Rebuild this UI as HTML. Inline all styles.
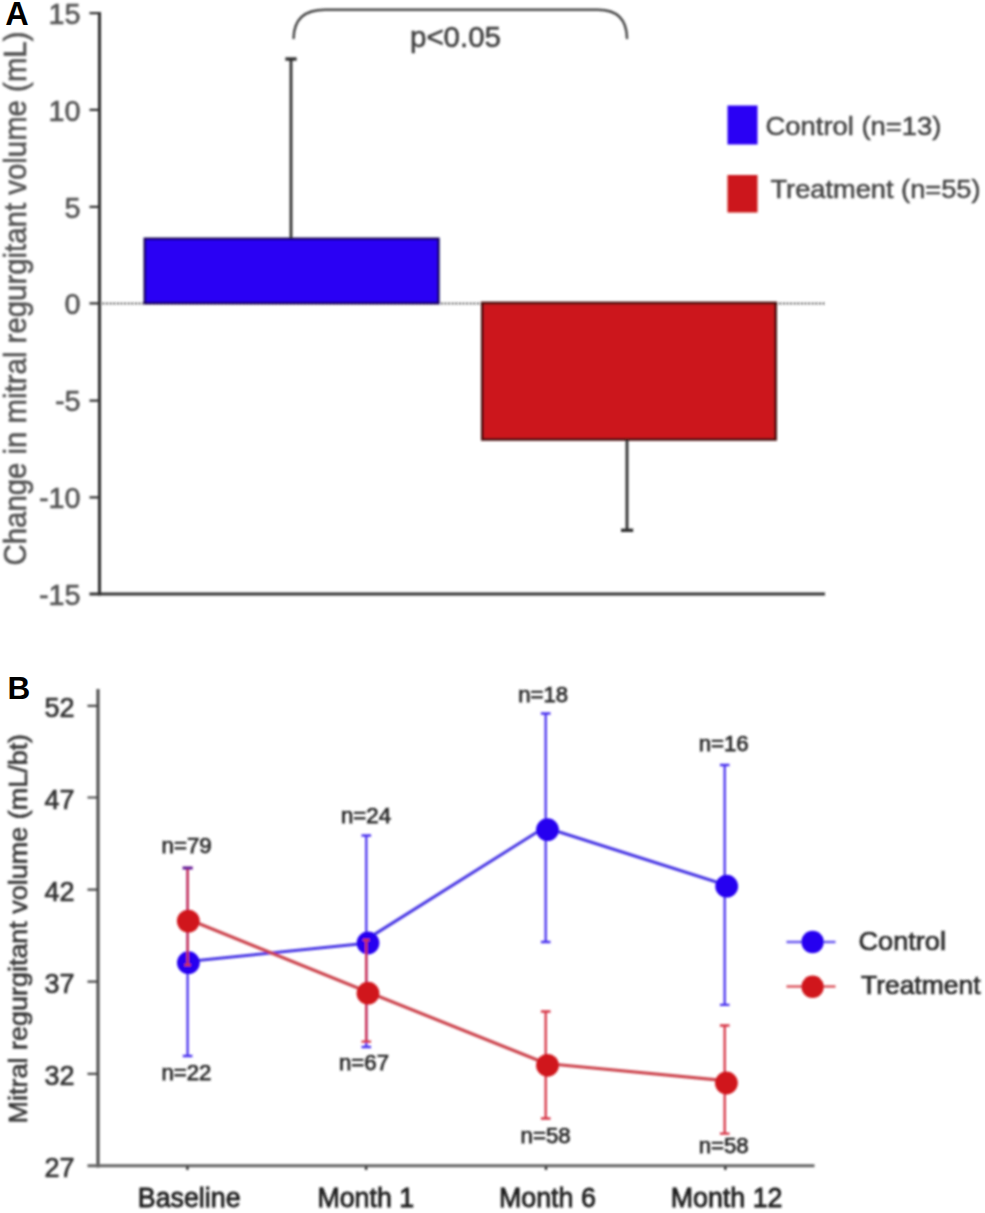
<!DOCTYPE html>
<html lang="en">
<head>
<meta charset="utf-8">
<title>Mitral regurgitant volume</title>
<style>
html,body{margin:0;padding:0;background:#fff;}
body{width:985px;height:1213px;overflow:hidden;}
svg{display:block;}
text{font-family:"Liberation Sans",Arial,Helvetica,sans-serif;}
</style>
</head>
<body>
<svg width="985" height="1213" viewBox="0 0 985 1213">
<rect width="985" height="1213" fill="#fff"/>
<defs><filter id="soft" x="0" y="0" width="985" height="1213" filterUnits="userSpaceOnUse"><feGaussianBlur stdDeviation="0.85"/></filter></defs>
<g id="all" filter="url(#soft)">

<!-- ===================== PANEL A ===================== -->
<g id="panelA">

  <!-- zero dotted line -->
  <line x1="99" y1="303.5" x2="825" y2="303.5" stroke="#333" stroke-width="1.9" stroke-dasharray="1.7 1.9"/>

  <!-- axes -->
  <g stroke="#333" fill="none" stroke-linecap="butt">
    <path d="M99.5 12 V595.4" stroke-width="3.1"/>
    <path d="M89.5 594 H825" stroke-width="3"/>
    <path d="M89.5 13.2 H99.5 M89.5 109.8 H99.5 M89.5 206.9 H99.5 M89.5 303.4 H99.5 M89.5 400.6 H99.5 M89.5 497.3 H99.5" stroke-width="2.2"/>
  </g>

  <!-- y tick labels -->
  <g font-size="28.8" fill="#545454" stroke="#545454" stroke-width="0.55" text-anchor="end">
    <text x="80.5" y="24">15</text>
    <text x="80.5" y="120.5">10</text>
    <text x="80.5" y="217.5">5</text>
    <text x="80.5" y="314">0</text>
    <text x="80.5" y="411">-5</text>
    <text x="80.5" y="508">-10</text>
    <text x="80.5" y="605">-15</text>
  </g>

  <!-- y label -->
  <text transform="translate(25.8 565.5) rotate(-90)" font-size="30.5" fill="#545454" stroke="#545454" stroke-width="0.6" textLength="534" lengthAdjust="spacingAndGlyphs">Change in mitral regurgitant volume (mL)</text>

  <!-- bars -->
  <rect x="144.8" y="238.8" width="293.6" height="64.3" fill="#2a06f4" stroke="#12055c" stroke-width="2.5"/>
  <rect x="482.3" y="303" width="293.3" height="136.4" fill="#cc181c" stroke="#4a0e0e" stroke-width="2.7"/>

  <!-- error bars -->
  <g stroke="#2e2e2e" stroke-width="2.8" fill="none">
    <path d="M291 238 V58.5"/><path d="M285.4 59 H296.6" stroke-width="3.4"/>
    <path d="M627 440 V530"/><path d="M621 530.3 H633.2" stroke-width="3.4"/>
  </g>

  <!-- bracket -->
  <path d="M293.6 38 C294 21 303 9.8 325 9.8 H598 C618 9.8 626.6 21 627 38" fill="none" stroke="#484848" stroke-width="2.5" stroke-linecap="round"/>
  <text x="410" y="46.5" font-size="29.5" fill="#424242" stroke="#424242" stroke-width="0.55" textLength="91" lengthAdjust="spacingAndGlyphs">p&lt;0.05</text>

  <!-- legend -->
  <rect x="727.5" y="105.5" width="30" height="39" fill="#2a06f4"/>
  <rect x="727.5" y="175" width="30" height="37.5" fill="#cc181c"/>
  <g font-size="26" fill="#444" stroke="#444" stroke-width="0.5">
    <text x="765.5" y="135" textLength="176" lengthAdjust="spacingAndGlyphs">Control (n=13)</text>
    <text x="770.5" y="198" textLength="210" lengthAdjust="spacingAndGlyphs">Treatment (n=55)</text>
  </g>
</g>

<!-- ===================== PANEL B ===================== -->
<g id="panelB">

  <!-- axes -->
  <g stroke="#484848" fill="none">
    <path d="M98 689 V1167.6" stroke-width="3"/>
    <path d="M87.5 1165.8 H814.5" stroke-width="3" stroke="#636363"/>
    <path d="M87.5 705.8 H98 M87.5 797.5 H98 M87.5 889.6 H98 M87.5 981.7 H98 M87.5 1073.8 H98" stroke-width="2.2"/>
  </g>
  <g stroke="#333" stroke-width="2.4" fill="none">
    <path d="M187.4 1166 V1170 M366.1 1166 V1170 M546 1166 V1170 M725.3 1166 V1170"/>
  </g>

  <!-- y tick labels -->
  <g font-size="27" fill="#333" stroke="#333" stroke-width="0.7" text-anchor="end">
    <text x="74.5" y="717.3">52</text>
    <text x="74.5" y="809">47</text>
    <text x="74.5" y="901">42</text>
    <text x="74.5" y="993">37</text>
    <text x="74.5" y="1085">32</text>
    <text x="74.5" y="1176.8">27</text>
  </g>

  <!-- y label -->
  <text transform="translate(26.8 1123.4) rotate(-90)" font-size="26" fill="#3a3a3a" stroke="#3a3a3a" stroke-width="0.6" textLength="389.5" lengthAdjust="spacingAndGlyphs">Mitral regurgitant volume (mL/bt)</text>

  <!-- x labels -->
  <g font-size="26.8" fill="#1e1e1e" stroke="#1e1e1e" stroke-width="0.8" text-anchor="middle">
    <text x="189.2" y="1207">Baseline</text>
    <text x="365.8" y="1207">Month 1</text>
    <text x="547.4" y="1207">Month 6</text>
    <text x="726.6" y="1207">Month 12</text>
  </g>

  <!-- control (blue) error bars -->
  <g stroke="#4a32ee" stroke-width="2.3" fill="none">
    <path d="M187.6 868 V1056 M182.8 868 H192.4 M182.8 1056 H192.4"/>
    <path d="M366.3 835.5 V1047 M361.5 835.5 H371.1 M361.5 1047 H371.1"/>
    <path d="M545.7 713.5 V942 M540.9 713.5 H550.5 M540.9 942 H550.5"/>
    <path d="M724.7 765 V1004.8 M719.9 765 H729.5 M719.9 1004.8 H729.5"/>
  </g>
  <!-- control line -->
  <path d="M187.6 961.5 L366.5 943.3 M366.5 939.4 L546 826.5 M546 827.8 L725 884.8" fill="none" stroke="#4a38e4" stroke-width="3.1" stroke-linecap="round"/>
  <g fill="#2505f0">
    <circle cx="188.4" cy="962.7" r="11.4"/>
    <circle cx="368" cy="943" r="11.4"/>
    <circle cx="547.5" cy="829.7" r="11.4"/>
    <circle cx="726.7" cy="886.2" r="11.4"/>
  </g>

  <!-- treatment (red) error bars -->
  <g stroke="#d63446" stroke-width="2.3" fill="none">
    <path d="M187.6 868 V965 M182.8 868 H192.4 M184.4 965 H190.8"/>
    <path d="M366.3 940 V1041.7 M363 940 H369.6 M361.5 1041.7 H371.1"/>
    <path d="M545.7 1011.5 V1118.5 M540.9 1011.5 H550.5 M540.9 1118.5 H550.5"/>
    <path d="M724.7 1025.5 V1133.6 M719.9 1025.5 H729.5 M719.9 1133.6 H729.5"/>
  </g>
  <!-- treatment line -->
  <polyline points="187.6,919 366.5,991.5 546,1063.5 725,1080.6" fill="none" stroke="#cc444e" stroke-width="3.2" stroke-linejoin="round"/>
  <g fill="#d0151b">
    <circle cx="188.3" cy="921.1" r="11.4"/>
    <circle cx="368" cy="993.2" r="11.4"/>
    <circle cx="547.5" cy="1065.3" r="11.4"/>
    <circle cx="726.4" cy="1083" r="11.4"/>
  </g>
  <!-- purple overlap cap at baseline top -->
  <path d="M182.8 868 H192.4" stroke="#5a1a9a" stroke-width="2.6"/>

  <!-- n labels -->
  <g font-size="22.2" fill="#2a2a2a" stroke="#2a2a2a" stroke-width="0.75" text-anchor="middle">
    <text x="186.6" y="853">n=79</text>
    <text x="186.4" y="1080.4">n=22</text>
    <text x="366" y="823">n=24</text>
    <text x="364" y="1070">n=67</text>
    <text x="543.2" y="702.2">n=18</text>
    <text x="545.6" y="1142.6">n=58</text>
    <text x="723.7" y="751">n=16</text>
    <text x="723.7" y="1153.4">n=58</text>
  </g>

  <!-- legend -->
  <g>
    <line x1="786.5" y1="942" x2="835.5" y2="942" stroke="#6a58f0" stroke-width="2.6"/>
    <circle cx="812.6" cy="942" r="11.2" fill="#2505f0"/>
    <line x1="786.5" y1="986.5" x2="835.5" y2="986.5" stroke="#dc5860" stroke-width="2.6"/>
    <circle cx="812.6" cy="986.8" r="11.2" fill="#d0151b"/>
    <g font-size="26.6" fill="#2a2a2a" stroke="#2a2a2a" stroke-width="0.7">
      <text x="858.5" y="949.8" textLength="87.5" lengthAdjust="spacingAndGlyphs">Control</text>
      <text x="861" y="994.3" textLength="119.5" lengthAdjust="spacingAndGlyphs">Treatment</text>
    </g>
  </g>
</g>

</g>
<!-- panel letters (crisp) -->
<g font-weight="bold" fill="#000">
  <text x="5.3" y="24.6" font-size="32.5">A</text>
  <text x="7.4" y="699" font-size="31.5">B</text>
</g>
</svg>
</body>
</html>
